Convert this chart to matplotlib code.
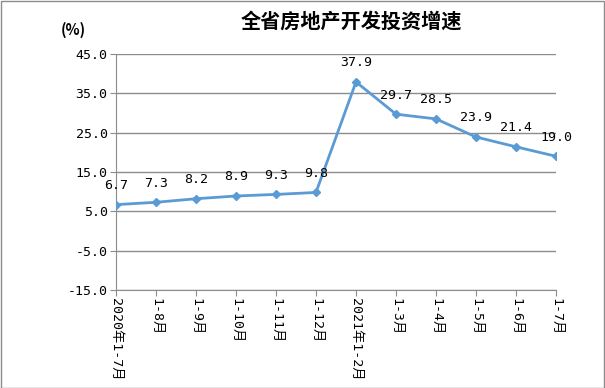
import matplotlib.pyplot as plt
from matplotlib.patches import Rectangle

plt.rcParams['font.family'] = ['DejaVu Sans Mono', 'Noto Sans CJK SC']

months = ['2020年1-7月', '1-8月', '1-9月', '1-10月', '1-11月', '1-12月',
          '2021年1-2月', '1-3月', '1-4月', '1-5月', '1-6月', '1-7月']
growth = [6.7, 7.3, 8.2, 8.9, 9.3, 9.8, 37.9, 29.7, 28.5, 23.9, 21.4, 19.0]
yticks = [-15, -5, 5, 15, 25, 35, 45]

fig = plt.figure(figsize=(6.05, 3.88), dpi=100)
ax = fig.add_axes([0.1917, 0.2526, 0.7273, 0.6082])

x = list(range(len(months)))
ax.plot(x, growth, color='#5B9BD5', lw=2, marker='D', ms=4, zorder=3)
for xi, v in zip(x, growth):
    ax.annotate(f'{v:.1f}', (xi, v), xytext=(0, 9), textcoords='offset points',
                ha='center', va='bottom', fontsize=9.5)

ax.set_xlim(0, len(months) - 1)
ax.set_ylim(-15, 45)
ax.set_yticks(yticks)
ax.set_yticklabels([f'{t:.1f}' for t in yticks], fontsize=9.5)
ax.set_xticks(x)
ax.set_xticklabels(months, rotation=270, fontsize=9.5, va='top', ha='center')
ax.grid(axis='y', color='#8c8c8c', lw=1)
ax.set_axisbelow(True)
for s in ['top', 'right']:
    ax.spines[s].set_visible(False)
for s in ['left', 'bottom']:
    ax.spines[s].set_color('#8c8c8c')
ax.tick_params(axis='both', color='#8c8c8c', length=4, pad=2)

fig.text(0.58, 0.946, '全省房地产开发投资增速', ha='center', va='center',
         fontsize=14.5, fontweight='bold', family='Noto Sans CJK SC')
fig.text(0.122, 0.922, '(%)', ha='center', va='center', fontsize=10.5,
         fontweight='bold', family='Noto Sans CJK SC')

fig.patches.append(Rectangle((0.001, 0.001), 0.997, 0.996, transform=fig.transFigure,
                             fill=False, edgecolor='#8c8c8c', lw=1))

fig.savefig('out.png', dpi=100)
